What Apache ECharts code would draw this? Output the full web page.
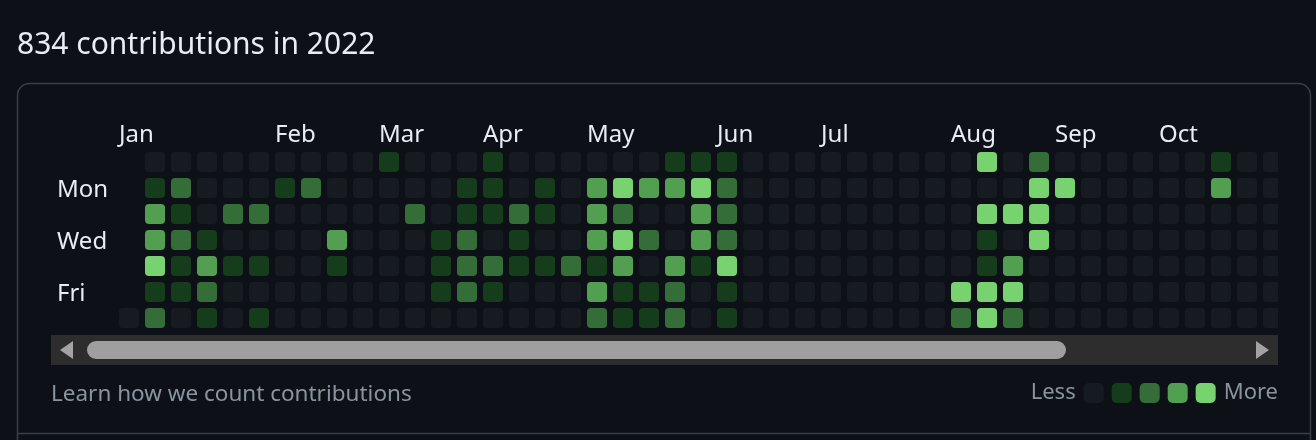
<!DOCTYPE html>
<html>
<head>
<meta charset="utf-8">
<script src="https://cdn.jsdelivr.net/npm/echarts@6/dist/echarts.min.js"></script>
<style>
  html, body { margin: 0; padding: 0; background: #0d1117; }
  #chart { width: 1316px; height: 440px; }
</style>
</head>
<body>
<div id="chart"></div>
<script>
// month labels and the week column where each one starts
const monthNames = ['Jan', 'Feb', 'Mar', 'Apr', 'May', 'Jun', 'Jul', 'Aug', 'Sep', 'Oct'];
const monthStartWeeks = [0, 6, 10, 14, 18, 23, 27, 32, 36, 40];
// weekday labels (row 0 = Sunday)
const dayNames = ['Mon', 'Wed', 'Fri'];
const dayRows = [1, 3, 5];
const levelColors = ['#161b22', '#163d1b', '#356d39', '#529f51', '#77d26f'];

// contribution level of each day, one array per week (Sun..Sat), null = before Jan 1
const weekLevels = [
  [null, null, null, null, null, null, 0],
  [0, 1, 3, 3, 4, 1, 2],
  [0, 2, 1, 2, 1, 1, 0],
  [0, 0, 0, 1, 3, 2, 1],
  [0, 0, 2, 0, 1, 0, 0],
  [0, 0, 2, 0, 1, 0, 1],
  [0, 1, 0, 0, 0, 0, 0],
  [0, 2, 0, 0, 0, 0, 0],
  [0, 0, 0, 3, 1, 0, 0],
  [0, 0, 0, 0, 0, 0, 0],
  [1, 0, 0, 0, 0, 0, 0],
  [0, 0, 2, 0, 0, 0, 0],
  [0, 0, 0, 1, 1, 1, 0],
  [0, 1, 1, 2, 2, 2, 0],
  [1, 1, 1, 0, 2, 1, 0],
  [0, 0, 2, 1, 1, 0, 0],
  [0, 1, 1, 0, 1, 0, 0],
  [0, 0, 0, 0, 2, 0, 0],
  [0, 3, 3, 3, 1, 3, 2],
  [0, 4, 2, 4, 3, 1, 1],
  [0, 3, 0, 2, 0, 1, 1],
  [1, 3, 0, 0, 3, 2, 2],
  [1, 4, 3, 3, 1, 0, 0],
  [1, 2, 2, 2, 4, 1, 1],
  [0, 0, 0, 0, 0, 0, 0],
  [0, 0, 0, 0, 0, 0, 0],
  [0, 0, 0, 0, 0, 0, 0],
  [0, 0, 0, 0, 0, 0, 0],
  [0, 0, 0, 0, 0, 0, 0],
  [0, 0, 0, 0, 0, 0, 0],
  [0, 0, 0, 0, 0, 0, 0],
  [0, 0, 0, 0, 0, 0, 0],
  [0, 0, 0, 0, 0, 4, 2],
  [4, 0, 4, 1, 1, 4, 4],
  [0, 0, 4, 0, 3, 4, 2],
  [2, 4, 4, 4, 0, 0, 0],
  [0, 4, 0, 0, 0, 0, 0],
  [0, 0, 0, 0, 0, 0, 0],
  [0, 0, 0, 0, 0, 0, 0],
  [0, 0, 0, 0, 0, 0, 0],
  [0, 0, 0, 0, 0, 0, 0],
  [0, 0, 0, 0, 0, 0, 0],
  [1, 3, 0, 0, 0, 0, 0],
  [0, 0, 0, 0, 0, 0, 0],
  [0, 0, 0, 0, 0, 0, 0]
];

const FONT = '"Noto Sans", "Open Sans", sans-serif';

const cells = [];
weekLevels.forEach((week, w) => {
  week.forEach((lvl, d) => {
    if (lvl !== null) cells.push([w, d, lvl]);
  });
});

const chart = echarts.init(document.getElementById('chart'));

// cell = 20px, pitch 26px
const option = {
  backgroundColor: '#0d1117',
  animation: false,
  grid: { left: 116, top: 149, width: 1162, height: 182 },
  xAxis: {
    type: 'value',
    position: 'top',
    min: -0.5,
    max: -0.5 + 1162 / 26,
    axisLine: { show: false },
    axisTick: { show: false },
    splitLine: { show: false },
    axisLabel: {
      customValues: monthStartWeeks.map(w => w - 10 / 26),
      formatter: v => monthNames[monthStartWeeks.indexOf(Math.round(v + 10 / 26))],
      align: 'left',
      verticalAlign: 'middle',
      margin: 14,
      color: '#e6edf3',
      fontSize: 24,
      fontFamily: FONT
    }
  },
  yAxis: {
    type: 'value',
    inverse: true,
    min: -0.5,
    max: 6.5,
    axisLine: { show: false },
    axisTick: { show: false },
    splitLine: { show: false },
    axisLabel: {
      // nudged 2px down so the text sits on the row centre
      customValues: dayRows.map(r => r + 2 / 26),
      formatter: v => dayNames[dayRows.indexOf(Math.round(v))],
      align: 'left',
      verticalAlign: 'middle',
      margin: 59,
      color: '#e6edf3',
      fontSize: 24,
      fontFamily: FONT
    }
  },
  visualMap: {
    type: 'piecewise',
    seriesIndex: 0,
    dimension: 2,
    orient: 'horizontal',
    right: 38,
    top: 382,
    padding: 0,
    itemWidth: 20,
    itemHeight: 20,
    itemGap: 8,
    itemSymbol: 'roundRect',
    selectedMode: false,
    hoverLink: false,
    text: ['More', 'Less'],
    textGap: 8,
    textStyle: { color: '#8b949e', fontSize: 22, fontFamily: FONT },
    pieces: levelColors.map((c, i) => ({ value: i, color: c }))
  },
  series: [{
    type: 'custom',
    clip: true,
    data: cells,
    encode: { x: 0, y: 1 },
    renderItem: function (params, api) {
      const c = api.coord([api.value(0), api.value(1)]);
      return {
        type: 'rect',
        shape: { x: c[0] - 10, y: c[1] - 10, width: 20, height: 20, r: 4 },
        style: { fill: api.visual('color') }
      };
    }
  }],
  graphic: [
    {
      type: 'text', left: 17, top: 30,
      style: { text: '834 contributions in 2022', fill: '#e6edf3', font: '30px ' + FONT }
    },
    {
      type: 'rect', z: -1,
      shape: { x: 17.5, y: 83.5, width: 1293, height: 420, r: 12 },
      style: { fill: 'none', stroke: '#3a3f46', lineWidth: 1.5 }
    },
    {
      type: 'line', z: -1,
      shape: { x1: 17.5, y1: 433.5, x2: 1310.5, y2: 433.5 },
      style: { stroke: '#3a3f46', lineWidth: 1.5 }
    },
    // scrollbar
    {
      type: 'rect', shape: { x: 51, y: 335, width: 1227, height: 30 },
      style: { fill: '#2d2d2d' }
    },
    {
      type: 'rect', shape: { x: 87, y: 341, width: 979, height: 18, r: 9 },
      style: { fill: '#9f9f9f' }
    },
    {
      type: 'polygon', shape: { points: [[73, 341], [73, 359], [60, 350]] },
      style: { fill: '#a3a3a3' }
    },
    {
      type: 'polygon', shape: { points: [[1256, 341], [1256, 359], [1269, 350]] },
      style: { fill: '#a3a3a3' }
    },
    {
      type: 'text', left: 51, top: 383,
      style: { text: 'Learn how we count contributions', fill: '#8b949e', font: '22.5px ' + FONT }
    }
  ]
};

chart.setOption(option);
</script>
</body>
</html>
